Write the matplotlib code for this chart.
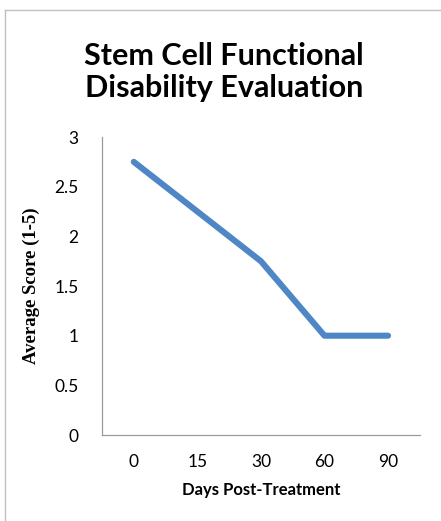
import matplotlib
matplotlib.use("Agg")
import matplotlib.pyplot as plt
from matplotlib.lines import Line2D

days = ["0", "15", "30", "60", "90"]
scores = [2.75, 2.25, 1.75, 1.0, 1.0]
yticks = [0, 0.5, 1, 1.5, 2, 2.5, 3]
ytick_labels = ["0", "0.5", "1", "1.5", "2", "2.5", "3"]

fig = plt.figure(figsize=(4.41, 5.21), dpi=100)
ax = fig.add_axes([0.2313, 0.165, 0.7207, 0.572])

x = list(range(len(days)))
ax.plot(x, scores, color="#4F86C6", linewidth=4.4, solid_capstyle="round")

ax.set_xlim(-0.5, len(days) - 0.5)
ax.set_ylim(0, 3)
ax.set_xticks(x)
ax.set_xticklabels(days)
ax.set_yticks(yticks)
ax.set_yticklabels(ytick_labels)
ax.tick_params(length=0, labelsize=12.5, labelcolor="#000000",
               labelfontfamily="Lato")
ax.tick_params(axis="x", pad=14)
ax.tick_params(axis="y", pad=17)

for s in ["top", "right"]:
    ax.spines[s].set_visible(False)
for s in ["left", "bottom"]:
    ax.spines[s].set_color("#9a9a9a")
    ax.spines[s].set_linewidth(0.9)

ax.set_xlabel("Days Post-Treatment", fontsize=12, fontweight="bold",
              family="Lato", labelpad=8)
ax.set_ylabel("Average Score (1-5)", fontsize=13.5, fontweight="bold",
              family="Liberation Serif", labelpad=10)

fig.text(0.508, 0.862, "Stem Cell Functional\nDisability Evaluation",
         ha="center", va="center", fontsize=22, fontweight="bold",
         family="Lato", linespacing=1.15)

# chart frame (top and left edges visible)
fig.add_artist(Line2D([5 / 441, 5 / 441], [0, 1 - 10 / 521],
                      transform=fig.transFigure, color="#c0c0c0", linewidth=1))
fig.add_artist(Line2D([5 / 441, 1], [1 - 10 / 521, 1 - 10 / 521],
                      transform=fig.transFigure, color="#c0c0c0", linewidth=1))

fig.savefig("out.png", dpi=100)
